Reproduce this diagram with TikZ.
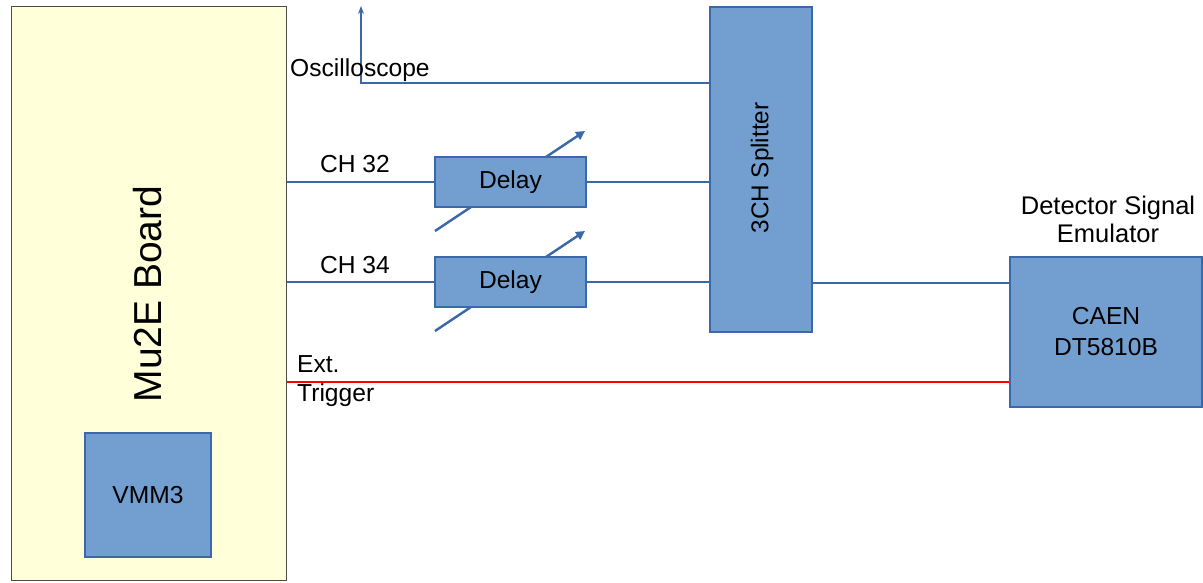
\documentclass[tikz,border=0pt]{standalone}
\usepackage{fontspec}
\setmainfont{Liberation Sans}
\usetikzlibrary{arrows.meta,backgrounds}
\definecolor{boxblue}{HTML}{729FCF}
\definecolor{edgeblue}{HTML}{3A68A8}
\definecolor{boardyellow}{HTML}{FFFFD9}
\begin{document}
\begin{tikzpicture}[x=1pt,y=1pt,
  every node/.style={font=\fontsize{24.6}{29}\selectfont, text=black},
  block/.style={draw=edgeblue, fill=boxblue, line width=1.3pt, inner sep=0pt},
  wire/.style={draw=edgeblue, line width=1.2pt},
  tune/.style={draw=edgeblue, line width=2.4pt, -{Triangle[length=9pt,width=9pt]}},
  lbl/.style={inner sep=0pt}
]
\useasboundingbox (0,0) rectangle (1203,-582);

% main board with the readout chip
\node[draw=black!70, fill=boardyellow, line width=1pt, minimum width=275pt, minimum height=574pt, inner sep=0pt] (board) at (148.5,-293) {};
\node[rotate=90, inner sep=0pt, font=\fontsize{39}{44}\selectfont] (boardlbl) at (147.5,-294) {Mu2E Board};
\node[block, minimum width=126pt, minimum height=124pt] (vmm) at (148,-495) {VMM3};

% adjustable delay lines
\node[block, minimum width=151pt, minimum height=50pt] (d1) at (510.5,-182) {Delay};
\node[block, minimum width=151pt, minimum height=50pt] (d2) at (510.5,-282) {Delay};
\begin{scope}[on background layer]
  \coordinate (t1a) at (435,-231); \coordinate (t1b) at (585,-131);
  \coordinate (t2a) at (435,-331); \coordinate (t2b) at (585,-231);
  \draw[tune] (t1a) -- (t1b);
  \draw[tune] (t2a) -- (t2b);
\end{scope}

% splitter and signal source
\node[block, minimum width=102pt, minimum height=325pt] (split) at (761,-169.5) {};
\node[rotate=90, inner sep=0pt, font=\fontsize{24.3}{29}\selectfont] (splitlbl) at (762,-168) {3CH Splitter};
\node[block, minimum width=192pt, minimum height=150pt, align=center, font=\fontsize{24.6}{31}\selectfont] (caen) at (1106,-332) {CAEN\\DT5810B};
\node[lbl, align=center, font=\fontsize{25.5}{28}\selectfont] (emu) at (1108,-219) {Detector Signal\\Emulator};

% connections
\coordinate (scope) at (361,-6);
\draw[wire, -{Stealth[length=8pt,width=6pt]}] (split.west |- 0,-83) -- (361,-83) -- (scope);
\node[lbl, anchor=base west] (osc) at (290,-76) {Oscilloscope};

\draw[wire] (board.east |- d1.west) -- (d1.west);
\draw[wire] (d1.east) -- (split.west |- d1.east);
\node[lbl, anchor=base] (ch32) at (355,-172) {CH 32};

\draw[wire] (board.east |- d2.west) -- (d2.west);
\draw[wire] (d2.east) -- (split.west |- d2.east);
\node[lbl, anchor=base] (ch34) at (355,-273) {CH 34};

\draw[wire] (split.east |- 0,-283) -- (caen.west |- 0,-283);

\draw[draw=red, line width=1.2pt] (board.east |- 0,-382) -- (caen.west |- 0,-382);
\node[lbl, anchor=base west] (ext) at (297,-372) {Ext.};
\node[lbl, anchor=base west] (trig) at (297,-401) {Trigger};
\end{tikzpicture}
\end{document}
